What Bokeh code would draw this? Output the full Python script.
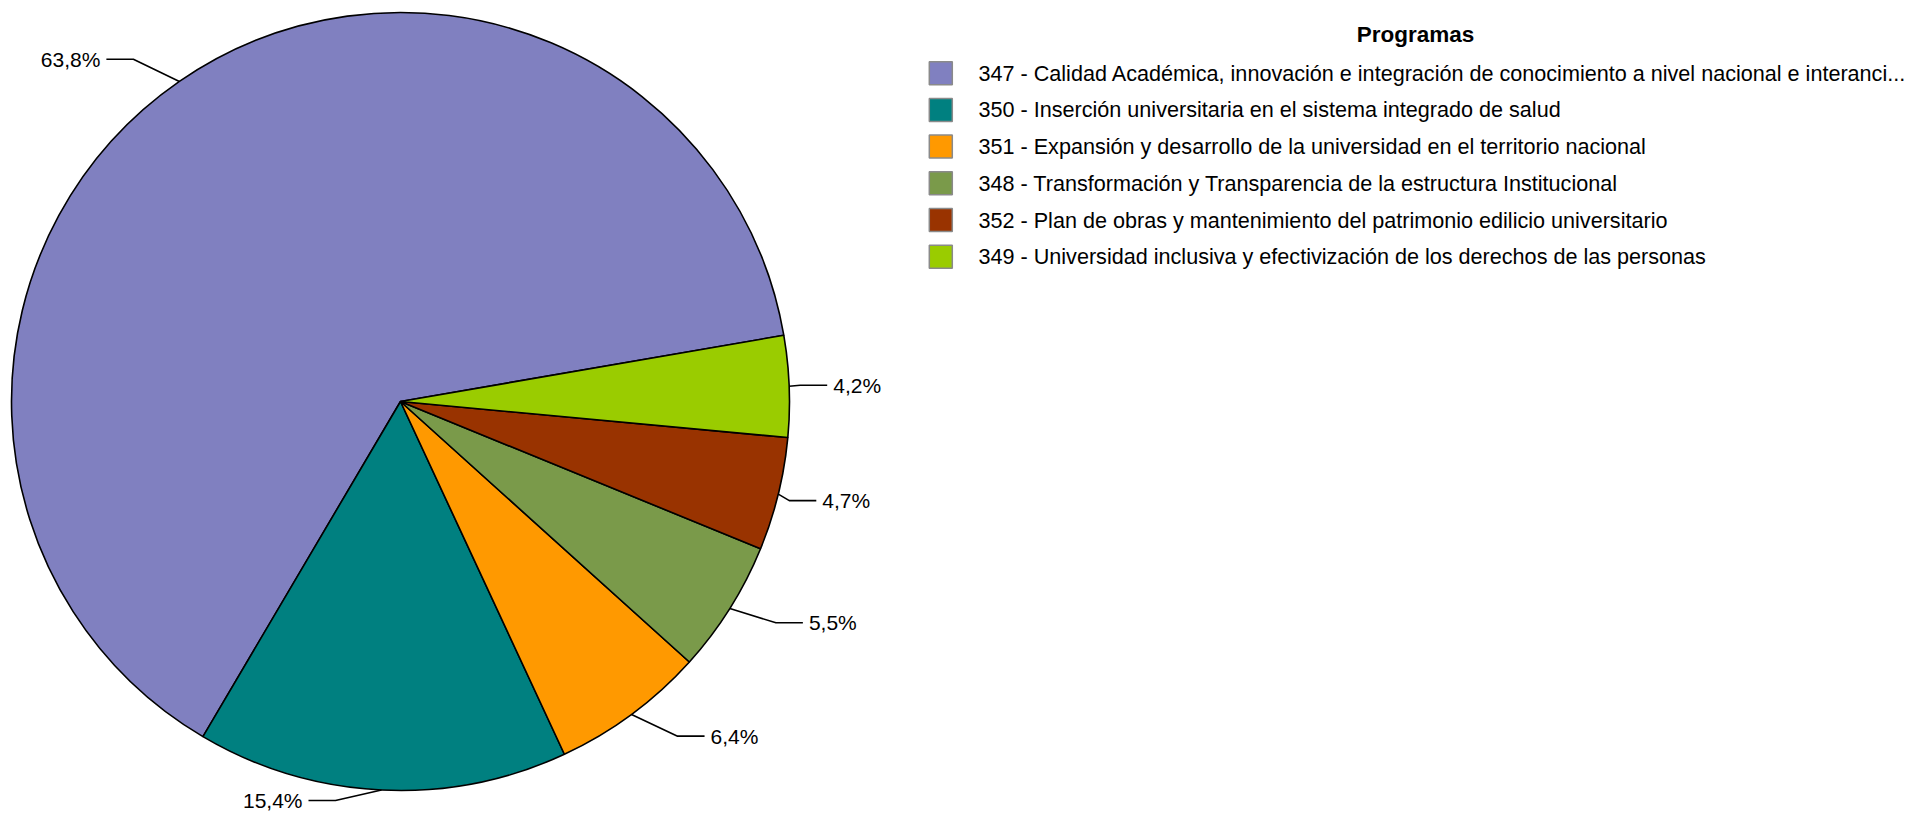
import numpy as np
from bokeh.plotting import figure
from bokeh.models import Range1d
from bokeh.embed import file_html
from bokeh.resources import INLINE
from bokeh.core.properties import value

# ---- data ----
programs = [
    "347 - Calidad Académica, innovación e integración de conocimiento a nivel nacional e interanci...",
    "350 - Inserción universitaria en el sistema integrado de salud",
    "351 - Expansión y desarrollo de la universidad en el territorio nacional",
    "348 - Transformación y Transparencia de la estructura Institucional",
    "352 - Plan de obras y mantenimiento del patrimonio edilicio universitario",
    "349 - Universidad inclusiva y efectivización de los derechos de las personas",
]
shares = [63.8, 15.4, 6.4, 5.5, 4.7, 4.2]
colors = ["#8080C0", "#008080", "#FF9900", "#7A9A4A", "#993300", "#9ACC00"]
legend_title = "Programas"

# ---- layout ----
W, H = 1914, 813
FONT = "Liberation Sans"

def px(xp):
    return xp

def py(yp):
    return H - yp

p = figure(width=W, height=H, x_range=Range1d(0, W), y_range=Range1d(0, H),
           output_backend="svg", toolbar_location=None, min_border=0,
           x_axis_type=None, y_axis_type=None)
p.grid.visible = False
p.outline_line_color = None
p.background_fill_color = "white"
p.border_fill_color = "white"

cx, cy, R = px(400), py(401), 389.0
vals = np.array(shares, dtype=float)
frac = vals / vals.sum()
start0 = np.radians(9.8)
ends = start0 + 2 * np.pi * np.cumsum(frac)
starts = ends - 2 * np.pi * frac

p.wedge(x=cx, y=cy, radius=R, start_angle=starts, end_angle=ends,
        direction="anticlock", fill_color=colors, line_color="black", line_width=1.6)

# leader lines and labels
mid = (starts + ends) / 2
ux, uy = np.cos(mid), np.sin(mid)
ymin_label = py(800)  # keep labels inside the canvas
xs, ys = [], []
lx, ly, la = [], [], []
for i in range(len(vals)):
    ex, ey = cx + R * ux[i], cy + R * uy[i]
    s = 1 if ux[i] >= 0 else -1
    hx = 11 if abs(ux[i]) > 0.9 else 46
    bx, by = ex + s * hx, max(ey + 27 * uy[i], ymin_label)
    fx = bx + s * 27
    xs.append([ex, bx, fx])
    ys.append([ey, by, by])
    lx.append(fx + s * 6)
    ly.append(by)
    la.append("left" if s > 0 else "right")

p.multi_line(xs=xs, ys=ys, line_color="black", line_width=1.6)
labels = [f"{v:.1f}".replace(".", ",") + "%" for v in vals]
for i in range(len(vals)):
    p.text(x=[lx[i]], y=[ly[i]], text=[labels[i]], text_align=la[i],
           text_baseline="middle", text_font=value(FONT), text_font_size="21px",
           text_color="black")

# legend
p.text(x=[px(1415)], y=[py(34)], text=[legend_title], text_align="center",
       text_baseline="middle", text_font=value(FONT), text_font_size="22.5px",
       text_font_style="bold", text_color="black")
rows_y = [py(72.7 + 36.7 * i) for i in range(len(programs))]
p.rect(x=[px(940.3)] * len(programs), y=rows_y, width=23, height=23,
       fill_color=colors, line_color="#8a8a8a", line_width=1.5)
p.text(x=[px(978)] * len(programs), y=rows_y, text=programs, text_align="left",
       text_baseline="middle", text_font=value(FONT), text_font_size="21.6px",
       text_color="black")

open("out.html", "w").write(file_html(p, INLINE))
